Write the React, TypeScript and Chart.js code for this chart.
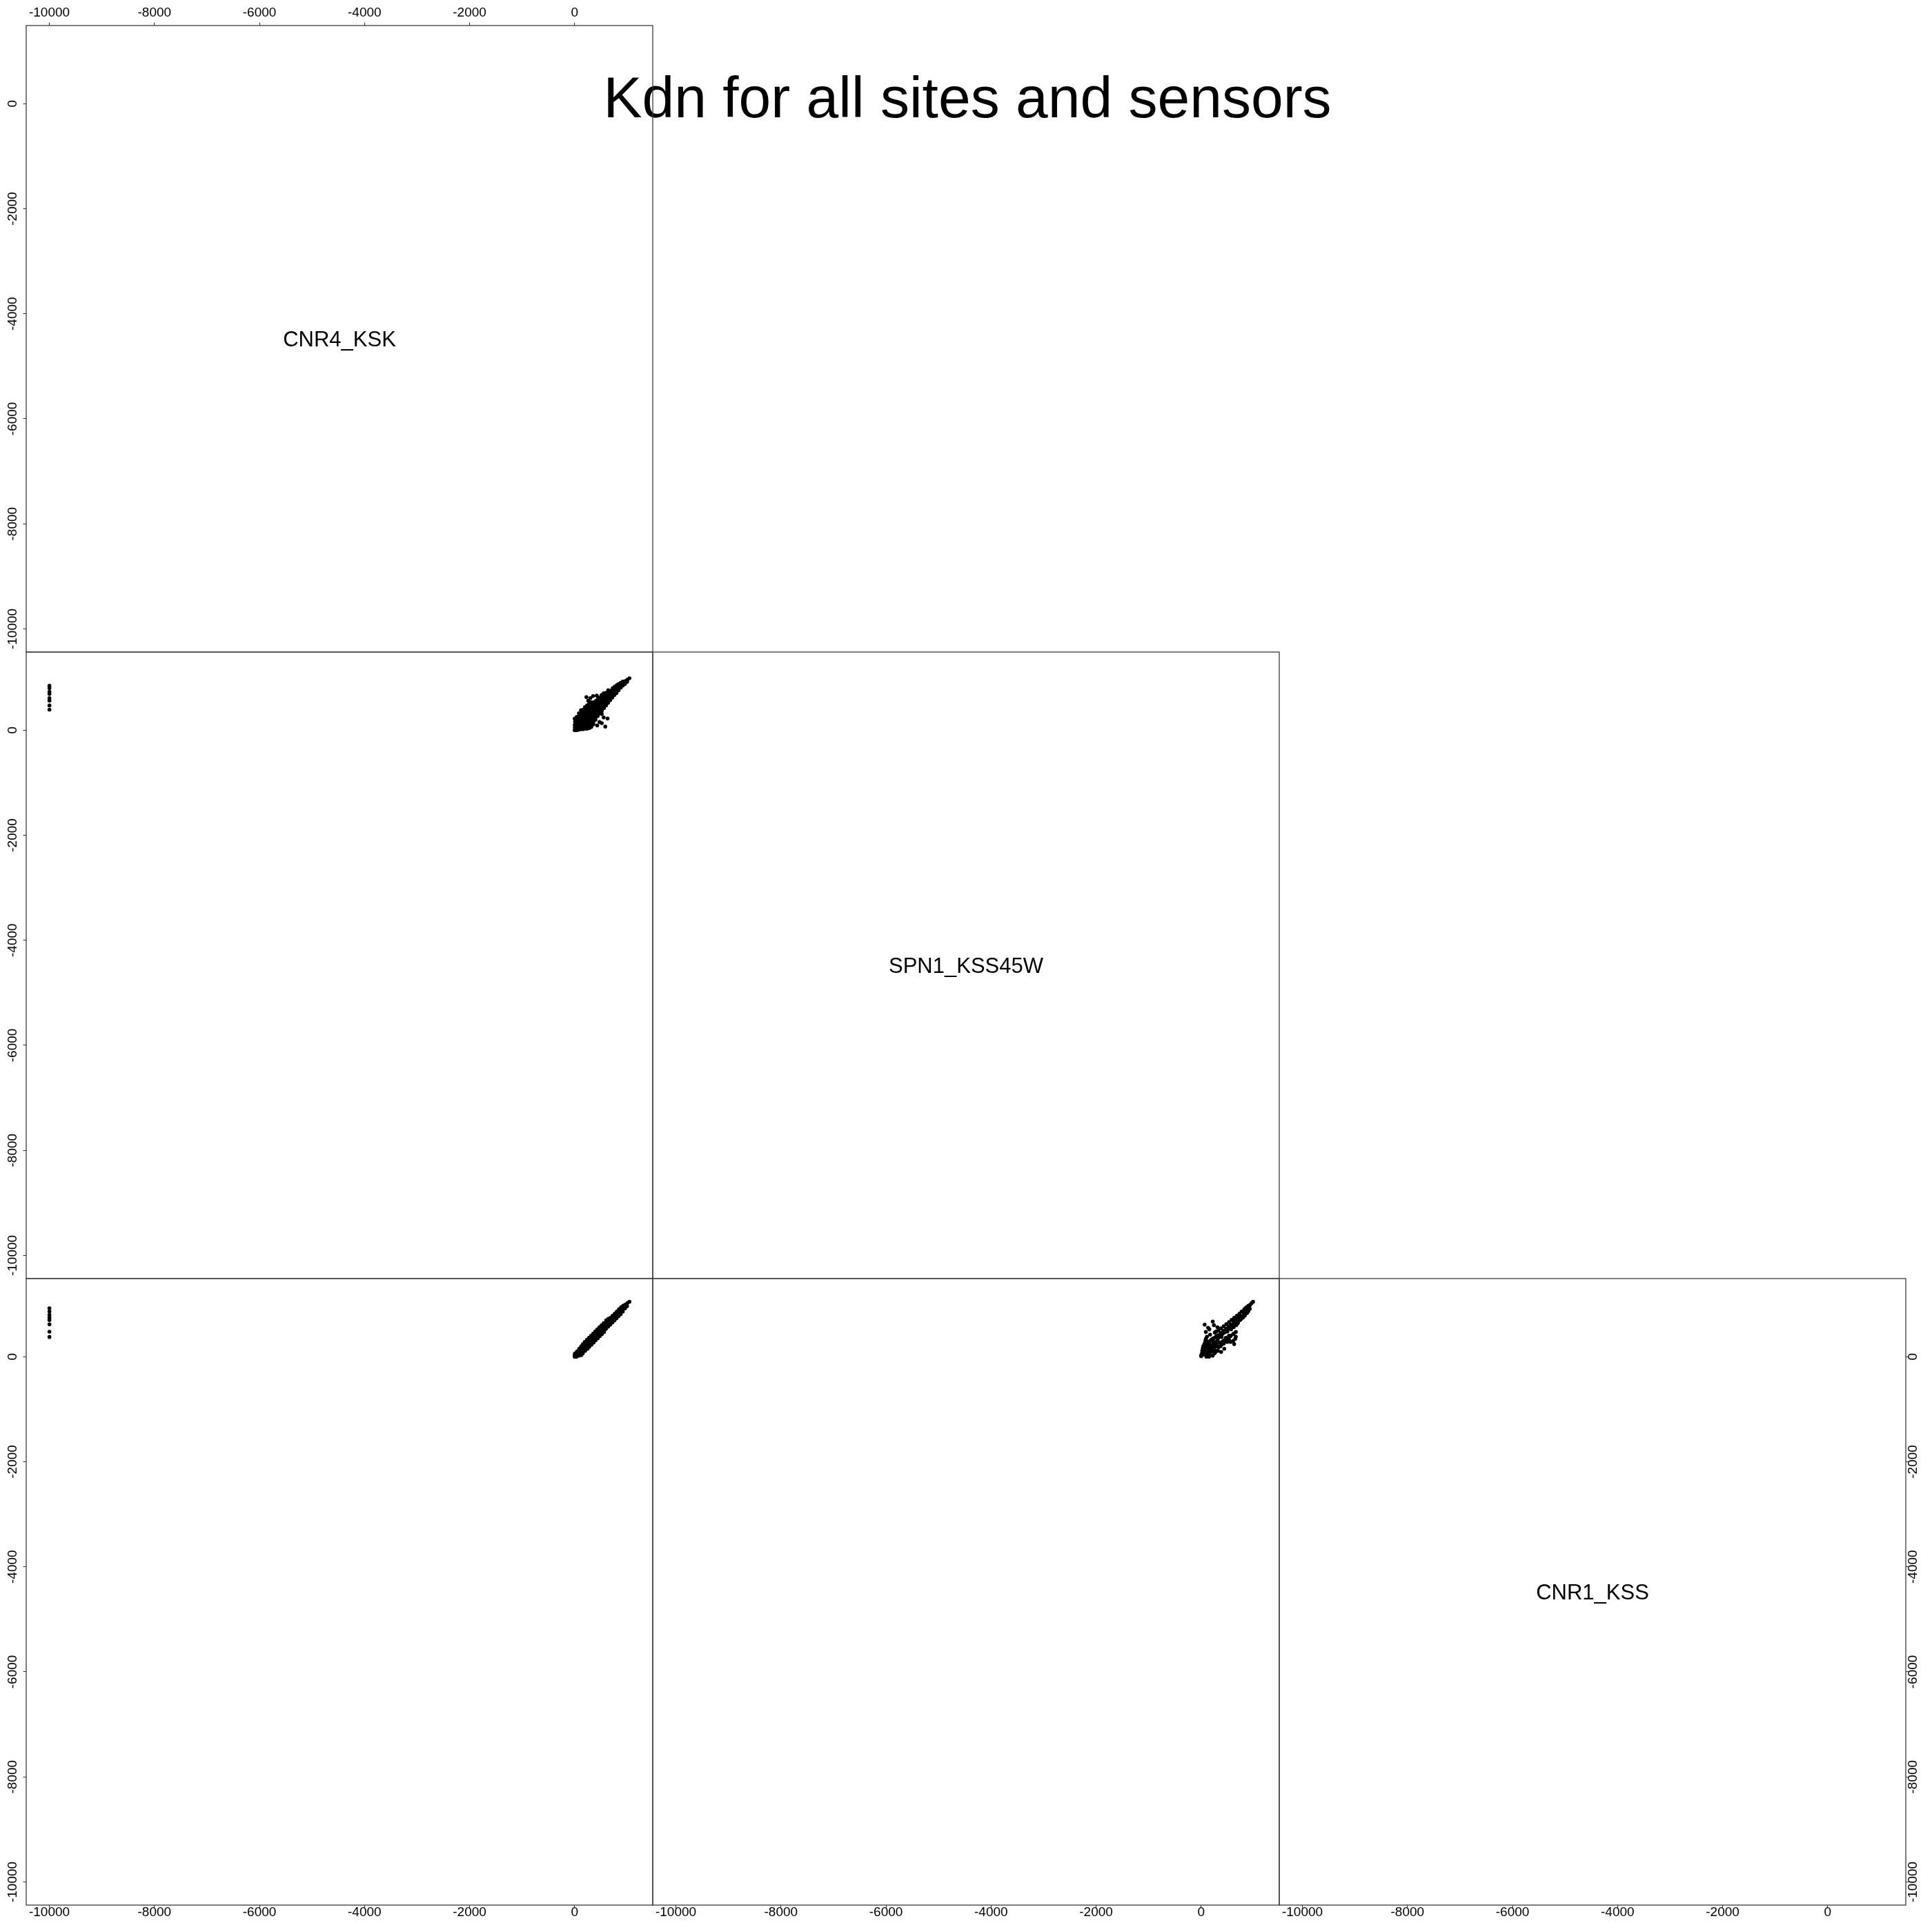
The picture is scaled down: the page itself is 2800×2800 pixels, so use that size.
import React, { useEffect, useRef } from "react";
import { Chart, registerables } from "chart.js";

Chart.register(...registerables);

const titleText = "Kdn for all sites and sensors";
const variableNames = ["CNR4_KSK", "SPN1_KSS45W", "CNR1_KSS"];
const tickValues = [-10000, -8000, -6000, -4000, -2000, 0];

// One observation per index: CNR4_KSK, SPN1_KSS45W, CNR1_KSS (-9999 = missing code)
const cnr4Ksk = [
  0, 4, 2, 7, 1,
  38, 44, 41, 36, 46, 40,
  79, 84, 77, 82, 86, 75, 81,
  118, 123, 116, 125, 120, 114, 127, 121,
  158, 163, 155, 166, 160, 154, 168, 161,
  197, 203, 195, 206, 199, 193, 208, 201, 196,
  238, 244, 235, 246, 240, 233, 248, 241, 237,
  278, 284, 275, 286, 280, 273, 288, 281, 277,
  318, 324, 315, 326, 320, 313, 328, 321, 317,
  358, 364, 355, 366, 360, 353, 368, 361,
  398, 404, 395, 406, 400, 393, 408,
  438, 444, 435, 446, 440, 433, 448,
  478, 484, 475, 486, 480, 473,
  518, 524, 515, 526, 520, 513,
  558, 564, 555, 566, 560, 553,
  598, 604, 595, 606, 600,
  638, 644, 635, 646, 640,
  678, 684, 675, 686,
  718, 724, 715, 726,
  758, 764, 755, 766,
  798, 804, 795, 806,
  838, 844, 835,
  878, 884, 875,
  918, 924, 915,
  958, 964,
  998, 1004,
  1043,
  224, 351, 260, 300, 420,
  443, 517, 552, 627, 474, 517, 430, 583,
  -9999, -9999, -9999, -9999, -9999, -9999, -9999, -9999,
];

const spn1Kss45w = [
  0, 50, 100, 160, 220,
  0, 50, 100, 150, 200, 250,
  10, 60, 110, 160, 210, 260, 320,
  20, 70, 120, 170, 220, 270, 320, 380,
  20, 70, 120, 170, 220, 270, 330, 390,
  30, 80, 130, 180, 230, 280, 340, 400, 440,
  30, 80, 130, 190, 250, 310, 370, 430, 470,
  40, 90, 150, 210, 270, 330, 390, 450, 500,
  60, 110, 170, 230, 290, 350, 410, 470, 530,
  110, 170, 230, 290, 350, 410, 470, 530,
  200, 260, 320, 380, 440, 500, 560,
  270, 330, 390, 450, 510, 570, 620,
  320, 380, 440, 500, 560, 620,
  370, 430, 490, 550, 610, 670,
  420, 480, 540, 600, 660, 700,
  470, 530, 590, 650, 710,
  520, 580, 640, 700, 760,
  570, 630, 690, 750,
  620, 680, 740, 800,
  670, 730, 790, 830,
  710, 770, 830, 860,
  760, 820, 875,
  810, 860, 900,
  850, 900, 925,
  880, 935,
  920, 960,
  988,
  628, 650, 560, 610, 660,
  287, 309, 243, 221, 155, 133, 89, 67,
  845, 800, 730, 690, 610, 560, 470, 390,
];

const cnr1Kss = [
  10, 40, 0, 60, 20,
  20, 80, 40, 0, 100, 60,
  50, 120, 20, 90, 150, 70, 110,
  60, 150, 100, 30, 180, 120, 200, 90,
  110, 200, 60, 150, 230, 90, 180, 240,
  120, 260, 170, 220, 110, 280, 190, 240, 150,
  160, 300, 220, 150, 270, 320, 200, 250, 290,
  200, 340, 260, 300, 190, 360, 240, 310, 280,
  240, 380, 300, 350, 230, 400, 290, 360, 330,
  290, 420, 340, 390, 270, 440, 330, 400,
  330, 460, 380, 430, 310, 480, 400,
  370, 500, 420, 470, 350, 520, 440,
  410, 540, 460, 510, 390, 560,
  450, 580, 500, 550, 430, 600,
  490, 620, 540, 590, 470, 640,
  530, 660, 580, 630, 690,
  570, 700, 620, 670, 720,
  610, 740, 660, 710,
  650, 780, 700, 750,
  690, 820, 740, 790,
  730, 860, 780, 830,
  770, 900, 830,
  810, 940, 870,
  860, 970, 910,
  920, 990,
  960, 1020,
  1045,
  240, 340, 280, 300, 380,
  480, 560, 600, 670, 520, 550, 470, 610,
  922, 860, 795, 740, 695, 616, 476, 375,
];

const FONT_FAMILY = '"Liberation Sans", Arial, Helvetica, sans-serif';
const TICK_SIZE = 19;
const PANEL = 908;
const X0 = 38;
const Y0 = 37;
const MARGIN = 70;
const AXIS_THICK = 60;
const CANVAS = PANEL + 2 * MARGIN;
const TICK_LEN = 4.5;

const variables = [cnr4Ksk, spn1Kss45w, cnr1Kss];
const allValues = [...cnr4Ksk, ...spn1Kss45w, ...cnr1Kss];
const lo = Math.min(...allValues);
const hi = Math.max(...allValues);
const ext = (hi - lo) * 0.04;
const AX_MIN = lo - ext;
const AX_MAX = hi + ext;

const panels: { r: number; c: number }[] = [];
for (let r = 0; r < 3; r++) for (let c = 0; c <= r; c++) panels.push({ r, c });

function measureWidest(): number {
  const ctx = document.createElement("canvas").getContext("2d") as CanvasRenderingContext2D;
  ctx.font = `${TICK_SIZE}px ${FONT_FAMILY}`;
  return Math.max(...tickValues.map((v) => ctx.measureText(String(v)).width));
}

function decor(r: number, c: number) {
  return {
    id: "panelDecor",
    afterDraw(chart: any) {
      const { ctx, chartArea: a } = chart;
      ctx.save();
      ctx.strokeStyle = "#3c3c3c";
      ctx.lineWidth = 1.3;
      ctx.strokeRect(a.left, a.top, a.right - a.left, a.bottom - a.top);
      if (r === c) {
        ctx.fillStyle = "#000";
        ctx.font = `31px ${FONT_FAMILY}`;
        ctx.textAlign = "center";
        ctx.textBaseline = "alphabetic";
        ctx.fillText(variableNames[r], (a.left + a.right) / 2, (a.top + a.bottom) / 2 + 11);
      }
      ctx.restore();
    },
  };
}

function makeConfig(r: number, c: number, widest: number): any {
  const diag = r === c;
  const xPos = r === 0 && c === 0 ? "top" : r === 2 ? "bottom" : "";
  const yPos = c === 0 ? "left" : r === 2 && c === 2 ? "right" : "";
  const tickFont = { family: FONT_FAMILY, size: TICK_SIZE };
  const setTicks = (s: any) => {
    s.ticks = tickValues.map((v) => ({ value: v }));
  };
  const gridOpts = {
    display: true,
    drawOnChartArea: false,
    drawTicks: true,
    tickLength: TICK_LEN,
    color: "#333",
    lineWidth: 1,
  };
  const xPad = xPos === "top" ? 1.9 : -4.9;
  const yPad = yPos === "left" ? 19 - TICK_LEN - widest / 2 : 10.5 - TICK_LEN - widest / 2;
  const padding = {
    left: yPos === "left" ? MARGIN - AXIS_THICK : MARGIN,
    right: yPos === "right" ? MARGIN - AXIS_THICK : MARGIN,
    top: xPos === "top" ? MARGIN - AXIS_THICK : MARGIN,
    bottom: xPos === "bottom" ? MARGIN - AXIS_THICK : MARGIN,
  };
  const data = diag ? [] : variables[c].map((xv, k) => ({ x: xv, y: variables[r][k] }));
  return {
    type: "scatter",
    data: {
      datasets: [
        {
          data,
          pointRadius: 2.8,
          pointHoverRadius: 2.8,
          pointBackgroundColor: "#000",
          pointBorderWidth: 0,
          showLine: false,
        },
      ],
    },
    options: {
      responsive: false,
      maintainAspectRatio: false,
      animation: false,
      devicePixelRatio: 1,
      events: [],
      layout: { padding, autoPadding: false },
      plugins: { legend: { display: false }, tooltip: { enabled: false }, title: { display: false } },
      scales: {
        x: {
          type: "linear",
          position: xPos || "bottom",
          display: !!xPos,
          min: AX_MIN,
          max: AX_MAX,
          afterBuildTicks: setTicks,
          afterFit: (s: any) => {
            if (xPos) s.height = AXIS_THICK;
          },
          grid: gridOpts,
          border: { display: false },
          ticks: {
            font: tickFont,
            color: "#000",
            padding: xPad,
            minRotation: 0,
            maxRotation: 0,
            autoSkip: false,
            callback: (v: any) => String(v),
          },
        },
        y: {
          type: "linear",
          position: yPos || "left",
          display: !!yPos,
          min: AX_MIN,
          max: AX_MAX,
          afterBuildTicks: setTicks,
          afterFit: (s: any) => {
            if (yPos) s.width = AXIS_THICK;
          },
          grid: gridOpts,
          border: { display: false },
          ticks: {
            font: tickFont,
            color: "#000",
            padding: yPad,
            minRotation: 90,
            maxRotation: 90,
            crossAlign: "center",
            autoSkip: false,
            callback: (v: any) => String(v),
          },
        },
      },
    },
    plugins: [decor(r, c)],
  };
}

export default function App() {
  const refs = useRef<(HTMLCanvasElement | null)[]>([]);

  useEffect(() => {
    const widest = measureWidest();
    const charts: Chart[] = [];
    panels.forEach((p, i) => {
      const el = refs.current[i];
      if (el) charts.push(new Chart(el, makeConfig(p.r, p.c, widest)));
    });
    return () => charts.forEach((ch) => ch.destroy());
  }, []);

  return (
    <div
      style={{
        position: "absolute",
        left: 0,
        top: 0,
        width: 2800,
        height: 2800,
        background: "#fff",
        overflow: "hidden",
      }}
    >
      <div
        style={{
          position: "absolute",
          left: 2,
          top: 99,
          width: 2800,
          textAlign: "center",
          fontFamily: FONT_FAMILY,
          fontSize: 84,
          lineHeight: "84px",
          whiteSpace: "nowrap",
          color: "#000",
        }}
      >
        {titleText}
      </div>
      {panels.map((p, i) => (
        <canvas
          key={i}
          ref={(el) => {
            refs.current[i] = el;
          }}
          width={CANVAS}
          height={CANVAS}
          style={{
            position: "absolute",
            left: X0 + p.c * PANEL - MARGIN,
            top: Y0 + p.r * PANEL - MARGIN,
            width: CANVAS,
            height: CANVAS,
          }}
        />
      ))}
    </div>
  );
}
